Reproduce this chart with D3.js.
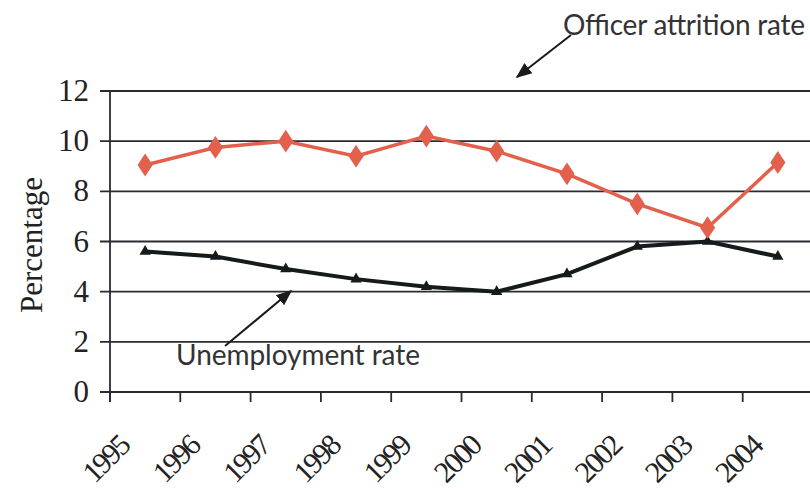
<!DOCTYPE html>
<html>
<head>
<meta charset="utf-8">
<script src="https://cdn.jsdelivr.net/npm/d3@7/dist/d3.min.js"></script>
<style>
  body { margin: 0; background: #fff; }
  svg { display: block; }
</style>
</head>
<body>
<svg width="810" height="490"></svg>
<script>
"use strict";
var years = ["1995","1996","1997","1998","1999","2000","2001","2002","2003","2004"];
var officerRate = [9.05, 9.75, 10.0, 9.4, 10.2, 9.6, 8.7, 7.5, 6.55, 9.15];
var unemploymentRate = [5.6, 5.4, 4.9, 4.5, 4.2, 4.0, 4.7, 5.8, 6.0, 5.4];
var yTicks = [0, 2, 4, 6, 8, 10, 12];

var svg = d3.select("svg");
var x = d3.scaleBand().domain(years).range([110, 813]);
var y = d3.scaleLinear().domain([0, 12]).range([392, 91]);

// gridlines
svg.append("g").selectAll("line").data(yTicks).join("line")
    .attr("x1", 100).attr("x2", 810)
    .attr("y1", function(d){ return y(d); }).attr("y2", function(d){ return y(d); })
    .attr("stroke", "#2a2a33").attr("stroke-width", 1.8);

// y axis line
svg.append("line").attr("x1", 110).attr("x2", 110).attr("y1", y(12)).attr("y2", y(0) + 10)
    .attr("stroke", "#2a2a33").attr("stroke-width", 1.8);

// x ticks at band edges
svg.append("g").selectAll("line").data(years).join("line")
    .attr("x1", function(d){ return x(d); }).attr("x2", function(d){ return x(d); })
    .attr("y1", y(0)).attr("y2", y(0) + 10)
    .attr("stroke", "#2a2a33").attr("stroke-width", 1.8);

// y tick labels
svg.append("g").selectAll("text").data(yTicks).join("text")
    .attr("x", 89).attr("y", function(d){ return y(d) + 10; })
    .attr("text-anchor", "end")
    .style("font-family", "'Liberation Serif', serif").style("font-size", "31px").style("fill", "#222")
    .text(function(d){ return d; });

// x tick labels
svg.append("g").selectAll("text").data(years).join("text")
    .attr("text-anchor", "end")
    .attr("transform", function(d){ return "translate(" + (x(d) + 21) + ",448) rotate(-45)"; })
    .style("font-family", "'Liberation Serif', serif").style("font-size", "30px").style("fill", "#222")
    .attr("letter-spacing", "-2.2")
    .text(function(d){ return d; });

// y title
svg.append("text")
    .attr("transform", "translate(42,245) rotate(-90)")
    .attr("text-anchor", "middle")
    .style("font-family", "'Liberation Serif', serif").style("font-size", "31px").style("fill", "#222")
    .text("Percentage");

var cx = function(d, i){ return x(years[i]) + x.bandwidth() / 2; };
var line = d3.line().x(function(d, i){ return cx(d, i); }).y(function(d){ return y(d); });

// unemployment
svg.append("path").datum(unemploymentRate).attr("d", line)
    .attr("fill", "none").attr("stroke", "#151a1a").attr("stroke-width", 4);
svg.append("g").selectAll("path").data(unemploymentRate).join("path")
    .attr("d", d3.symbol().type(d3.symbolTriangle).size(55))
    .attr("transform", function(d, i){ return "translate(" + cx(d, i) + "," + y(d) + ")"; })
    .attr("fill", "#151a1a");

// officer attrition
svg.append("path").datum(officerRate).attr("d", line)
    .attr("fill", "none").attr("stroke", "#e2604c").attr("stroke-width", 3.5);
svg.append("g").selectAll("path").data(officerRate).join("path")
    .attr("d", d3.symbol().type(d3.symbolDiamond).size(150))
    .attr("transform", function(d, i){ return "translate(" + cx(d, i) + "," + y(d) + ") scale(1.15,1)"; })
    .attr("fill", "#e2604c");

// arrows
var defs = svg.append("defs");
defs.append("marker").attr("id", "arr").attr("viewBox", "0 0 10 10")
    .attr("refX", 9).attr("refY", 5)
    .attr("markerUnits", "userSpaceOnUse").attr("orient", "auto")
    .attr("markerWidth", 16).attr("markerHeight", 16)
  .append("path").attr("d", "M0,1 L10,5 L0,9 Z").attr("fill", "#1a1a1a");

svg.append("line").attr("x1", 571).attr("y1", 35).attr("x2", 517).attr("y2", 77)
    .attr("stroke", "#1a1a1a").attr("stroke-width", 2).attr("marker-end", "url(#arr)");
svg.append("line").attr("x1", 225).attr("y1", 346).attr("x2", 291).attr("y2", 291)
    .attr("stroke", "#1a1a1a").attr("stroke-width", 2).attr("marker-end", "url(#arr)");

// annotations
svg.append("text").attr("x", 563).attr("y", 35)
    .attr("textLength", 242)
    .style("font-family", "Lato, sans-serif").style("font-size", "28px").style("fill", "#333")
    .text("Officer attrition rate");
svg.append("text").attr("x", 176).attr("y", 365)
    .attr("textLength", 244)
    .style("font-family", "Lato, sans-serif").style("font-size", "28px").style("fill", "#333")
    .text("Unemployment rate");
</script>
</body>
</html>
